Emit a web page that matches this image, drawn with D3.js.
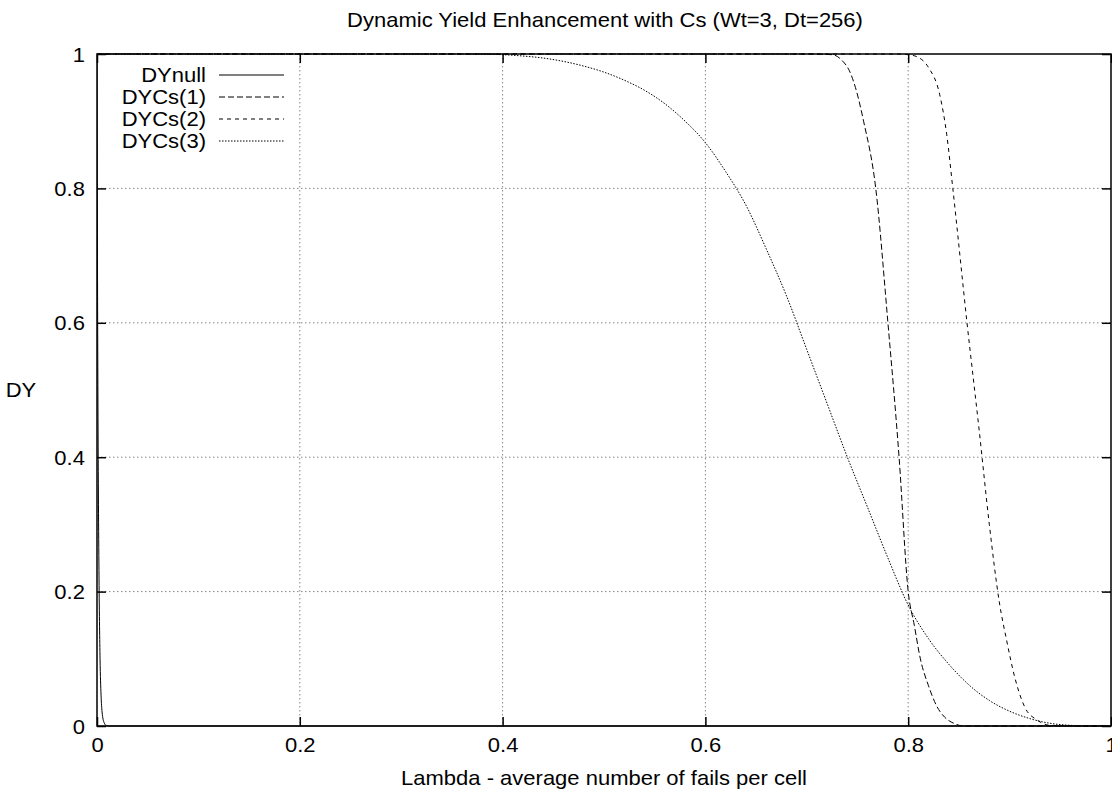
<!DOCTYPE html>
<html>
<head>
<meta charset="utf-8">
<script src="https://cdn.jsdelivr.net/npm/d3@7"></script>
<style>
  body { margin: 0; background: #fff; }
  text { font-family: "Liberation Sans", Arial, sans-serif; fill: #000; }
</style>
</head>
<body>
<div id="chart"></div>
<script>
// chart data
let chartTitle = 'Dynamic Yield Enhancement with Cs (Wt=3, Dt=256)';
let xTicks = [0, 0.2, 0.4, 0.6, 0.8, 1];
let yTicks = [0, 0.2, 0.4, 0.6, 0.8, 1];
let seriesNames = ['DYnull', 'DYCs(1)', 'DYCs(2)', 'DYCs(3)'];

let dyNull = [
  [0, 1], [0.0005, 0.68], [0.001, 0.46], [0.002, 0.22], [0.003, 0.10],
  [0.004, 0.046], [0.005, 0.021], [0.007, 0.005], [0.009, 0.001],
  [0.012, 0], [1, 0]
];
let dyCs1 = [
  [0, 1], [0.70, 1], [0.725, 0.999], [0.735, 0.99], [0.742, 0.975],
  [0.748, 0.95], [0.756, 0.9], [0.768, 0.8], [0.780, 0.6], [0.791, 0.4],
  [0.800, 0.2], [0.806, 0.15], [0.812, 0.1], [0.820, 0.06], [0.828, 0.03],
  [0.836, 0.013], [0.845, 0.004], [0.855, 0], [1, 0]
];
let dyCs2 = [
  [0, 1], [0.79, 1], [0.80, 0.999], [0.81, 0.995], [0.82, 0.98],
  [0.831, 0.94], [0.838, 0.88], [0.844, 0.8], [0.858, 0.6], [0.870, 0.44],
  [0.880, 0.3], [0.890, 0.183], [0.897, 0.128], [0.905, 0.073],
  [0.915, 0.028], [0.927, 0.009], [0.94, 0.001], [0.97, 0], [1, 0]
];
let dyCs3 = [
  [0, 1], [0.36, 1], [0.38, 0.9997], [0.40, 0.999], [0.42, 0.997],
  [0.44, 0.994], [0.46, 0.989], [0.48, 0.982], [0.50, 0.973],
  [0.52, 0.961], [0.54, 0.946], [0.56, 0.926], [0.58, 0.90],
  [0.60, 0.868], [0.62, 0.825], [0.64, 0.775], [0.66, 0.71],
  [0.68, 0.64], [0.70, 0.56], [0.72, 0.48], [0.74, 0.40],
  [0.76, 0.325], [0.78, 0.25], [0.80, 0.18], [0.82, 0.13],
  [0.84, 0.092], [0.86, 0.061], [0.88, 0.038], [0.90, 0.022],
  [0.92, 0.011], [0.94, 0.004], [0.96, 0.001], [0.98, 0], [1, 0]
];
let seriesData = [dyNull, dyCs1, dyCs2, dyCs3];
let seriesDash = ['none', '6,3', '4,4', '1.5,1.5'];

// svg size and plot box
let svgWidth = 1112;
let svgHeight = 793;
let margin = { top: 54, right: 1, bottom: 67, left: 97 };
let width = svgWidth - margin.left - margin.right;
let height = svgHeight - margin.top - margin.bottom;

// text is drawn a bit wider than normal, like the original output
let fontSize = '20px';
let stretch = 'scale(1.1, 1)';

let svg = d3.select('#chart')
  .append('svg')
  .attr('width', svgWidth)
  .attr('height', svgHeight);

let chartGroup = svg.append('g')
  .attr('transform', `translate(${margin.left}, ${margin.top})`);

let xScale = d3.scaleLinear().domain([0, 1]).range([0, width]);
let yScale = d3.scaleLinear().domain([0, 1]).range([height, 0]);

// grid lines (dotted grey)
chartGroup.append('g')
  .selectAll('line')
  .data(xTicks.filter(d => d > 0 && d < 1))
  .enter()
  .append('line')
  .attr('x1', d => xScale(d)).attr('x2', d => xScale(d))
  .attr('y1', 0).attr('y2', height)
  .attr('stroke', '#888')
  .attr('stroke-width', 1)
  .attr('stroke-dasharray', '1.5,2.5');

chartGroup.append('g')
  .selectAll('line')
  .data(yTicks.filter(d => d > 0 && d < 1))
  .enter()
  .append('line')
  .attr('x1', 0).attr('x2', width)
  .attr('y1', d => yScale(d)).attr('y2', d => yScale(d))
  .attr('stroke', '#888')
  .attr('stroke-width', 1)
  .attr('stroke-dasharray', '1.5,2.5');

// clip for curves
svg.append('defs').append('clipPath')
  .attr('id', 'plotClip')
  .append('rect')
  .attr('x', 0).attr('y', -1)
  .attr('width', width).attr('height', height + 2);

let line = d3.line()
  .x(d => xScale(d[0]))
  .y(d => yScale(d[1]))
  .curve(d3.curveMonotoneX);

chartGroup.append('g')
  .attr('clip-path', 'url(#plotClip)')
  .selectAll('path')
  .data(seriesData)
  .enter()
  .append('path')
  .attr('d', d => line(d))
  .attr('fill', 'none')
  .attr('stroke', '#000')
  .attr('stroke-width', 1)
  .attr('stroke-dasharray', (d, i) => seriesDash[i]);

// axes: ticks inside, mirrored on all four sides
let tickLen = 9;
let bottomAxis = d3.axisBottom(xScale).tickValues(xTicks).tickSize(-tickLen).tickPadding(12).tickFormat(d3.format('~g'));
let topAxis = d3.axisTop(xScale).tickValues(xTicks).tickSize(-tickLen).tickFormat('');
let leftAxis = d3.axisLeft(yScale).tickValues(yTicks).tickSize(-tickLen).tickPadding(11).tickFormat(d3.format('~g'));
let rightAxis = d3.axisRight(yScale).tickValues(yTicks).tickSize(-tickLen).tickFormat('');

let xAxis = chartGroup.append('g')
  .attr('transform', `translate(0, ${height})`)
  .call(bottomAxis);
chartGroup.append('g').call(topAxis);
let yAxis = chartGroup.append('g').call(leftAxis);
chartGroup.append('g')
  .attr('transform', `translate(${width}, 0)`)
  .call(rightAxis);

chartGroup.selectAll('.domain').remove();
chartGroup.selectAll('.tick line').attr('stroke', '#000').attr('stroke-width', 1.5);
xAxis.selectAll('text').attr('font-size', fontSize).attr('transform', stretch);
yAxis.selectAll('text').attr('font-size', fontSize).attr('dy', '0.35em').attr('transform', stretch);

// frame
chartGroup.append('rect')
  .attr('x', 0).attr('y', 0)
  .attr('width', width).attr('height', height)
  .attr('fill', 'none')
  .attr('stroke', '#000')
  .attr('stroke-width', 1.5);

// helper for a stretched text label
function addLabel(x, y, anchor, label) {
  return svg.append('text')
    .attr('transform', `translate(${x}, ${y}) ${stretch}`)
    .attr('text-anchor', anchor)
    .attr('font-size', fontSize)
    .text(label);
}

// title and axis labels
addLabel(605, 27, 'middle', chartTitle);
addLabel(604, 785, 'middle', 'Lambda - average number of fails per cell');
addLabel(21, 397, 'middle', 'DY');

// legend
seriesNames.forEach(function (name, i) {
  let yPos = 75 + i * 22;
  addLabel(206, yPos + 7, 'end', name);
  svg.append('line')
    .attr('x1', 219).attr('x2', 284)
    .attr('y1', yPos).attr('y2', yPos)
    .attr('stroke', '#000')
    .attr('stroke-width', 1)
    .attr('stroke-dasharray', seriesDash[i]);
});
</script>
</body>
</html>
